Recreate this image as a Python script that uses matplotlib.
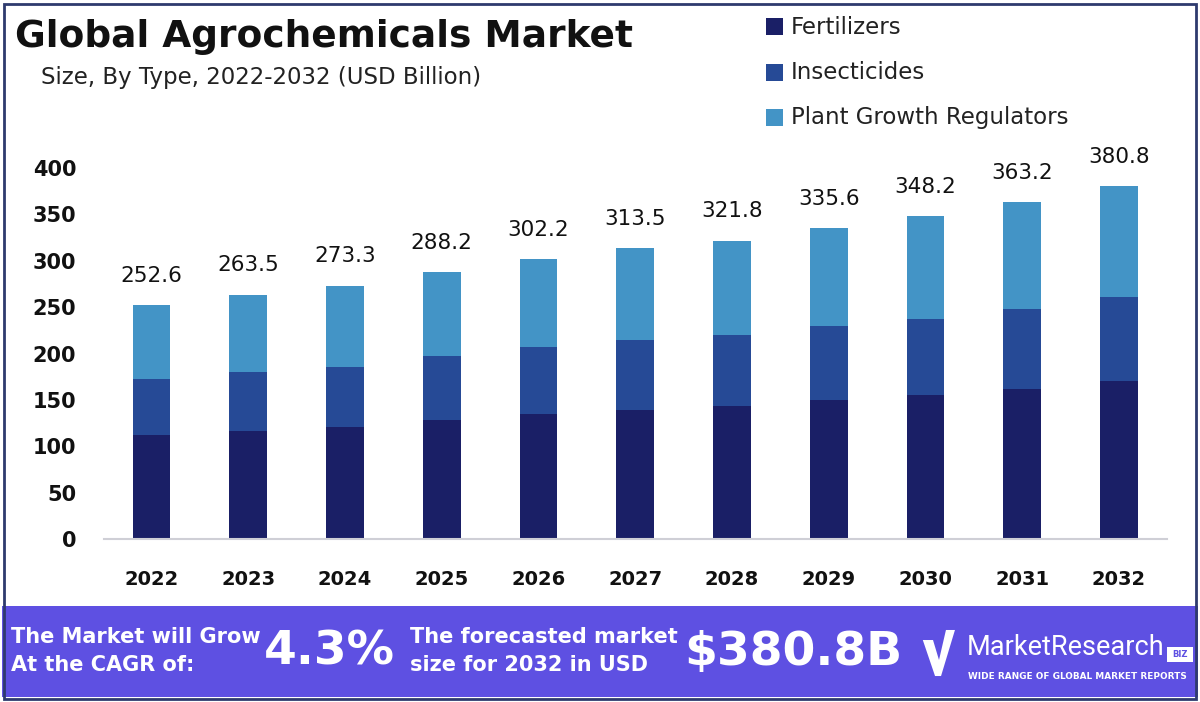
import numpy as np
import matplotlib.pyplot as plt
from matplotlib.patches import Rectangle, Polygon

years = ["2022", "2023", "2024", "2025", "2026", "2027", "2028", "2029", "2030", "2031", "2032"]
fertilizers = [112.0, 116.0, 121.0, 128.0, 135.0, 139.0, 143.0, 150.0, 155.0, 162.0, 170.0]
insecticides = [60.0, 64.0, 65.0, 69.0, 72.0, 75.5, 77.0, 79.6, 82.0, 86.0, 91.0]
growth_regulators = [80.6, 83.5, 87.3, 91.2, 95.2, 99.0, 101.8, 106.0, 111.2, 115.2, 119.8]
totals = [252.6, 263.5, 273.3, 288.2, 302.2, 313.5, 321.8, 335.6, 348.2, 363.2, 380.8]
series_names = ["Fertilizers", "Insecticides", "Plant Growth Regulators"]
y_ticks = [0, 50, 100, 150, 200, 250, 300, 350, 400]

colors = ["#1a1f66", "#264a96", "#4394c6"]
footer_color = "#5e50e2"
frame_color = "#2e3a6e"

fig = plt.figure(figsize=(12, 7.02), dpi=100)
fig.patch.set_facecolor("white")

# chart area
ax = fig.add_axes([0.0867, 0.2322, 0.886, 0.5548])
x = np.arange(len(years))
bottom = np.zeros(len(years))
for vals, col in zip([fertilizers, insecticides, growth_regulators], colors):
    ax.bar(x, vals, width=0.39, bottom=bottom, color=col, zorder=2)
    bottom += np.array(vals)

for xi, t in zip(x, totals):
    ax.annotate(f"{t:.1f}", (xi, t), xytext=(0, 21), textcoords="offset points",
                ha="center", va="center", fontsize=15.5, color="#111111",
                annotation_clip=False)

ax.set_xlim(-0.49, 10.5)
ax.set_ylim(0, 420)
ax.set_xticks(x)
ax.set_xticklabels(years, fontsize=14, fontweight="bold", color="#111111")
ax.set_yticks(y_ticks)
ax.set_yticklabels([str(v) for v in y_ticks], fontsize=15, fontweight="bold", color="#111111")
ax.tick_params(axis="x", length=0, pad=22)
ax.tick_params(axis="y", length=0, pad=20)
for s in ["top", "right", "left"]:
    ax.spines[s].set_visible(False)
ax.spines["bottom"].set_color("#cfcfd6")
ax.spines["bottom"].set_linewidth(1.5)

# titles
fig.text(0.0125, 0.948, "Global Agrochemicals Market", fontsize=27, fontweight="bold",
         color="#111111", va="center", ha="left")
fig.text(0.034, 0.890, "Size, By Type, 2022-2032 (USD Billion)", fontsize=16.5,
         color="#222222", va="center", ha="left")

# legend
leg_y = [0.9615, 0.897, 0.833]
for name, col, yy in zip(series_names, colors, leg_y):
    fig.patches.append(Rectangle((0.638, yy - 0.012), 0.0142, 0.0242, transform=fig.transFigure,
                                 facecolor=col, edgecolor="none"))
    fig.text(0.659, yy, name, fontsize=16.5, color="#222222", va="center", ha="left")

# footer band
fig.patches.append(Rectangle((0.002, 0.007), 0.996, 0.13, transform=fig.transFigure,
                             facecolor=footer_color, edgecolor="none", zorder=0))
fig.text(0.009, 0.092, "The Market will Grow", fontsize=15, fontweight="bold", color="white",
         va="center", ha="left")
fig.text(0.009, 0.052, "At the CAGR of:", fontsize=15, fontweight="bold", color="white",
         va="center", ha="left")
fig.text(0.22, 0.071, "4.3%", fontsize=34, fontweight="bold", color="white",
         va="center", ha="left")
fig.text(0.342, 0.092, "The forecasted market", fontsize=15, fontweight="bold", color="white",
         va="center", ha="left")
fig.text(0.342, 0.052, "size for 2032 in USD", fontsize=15, fontweight="bold", color="white",
         va="center", ha="left")
fig.text(0.570, 0.071, "$380.8B", fontsize=34, fontweight="bold", color="white",
         va="center", ha="left")

# logo
check = [(0.769, 0.0883), (0.7775, 0.0883), (0.7825, 0.0598), (0.7883, 0.1026),
         (0.7958, 0.1026), (0.7842, 0.037), (0.7792, 0.037)]
fig.patches.append(Polygon(check, closed=True, transform=fig.transFigure,
                           facecolor="white", edgecolor="none"))
fig.text(0.806, 0.077, "MarketResearch", fontsize=19.5, color="white", va="center", ha="left",
         family="Roboto")
fig.patches.append(Rectangle((0.9725, 0.057), 0.0215, 0.021, transform=fig.transFigure,
                             facecolor="white", edgecolor="none"))
fig.text(0.9832, 0.0675, "BIZ", fontsize=6, fontweight="bold", color=footer_color,
         va="center", ha="center")
fig.text(0.807, 0.036, "WIDE RANGE OF GLOBAL MARKET REPORTS", fontsize=6.4, fontweight="bold",
         color="white", va="center", ha="left")

# outer frame
fig.patches.append(Rectangle((0.003, 0.004), 0.994, 0.991, transform=fig.transFigure,
                             facecolor="none", edgecolor=frame_color, linewidth=2))

fig.savefig("out.png", dpi=100)
